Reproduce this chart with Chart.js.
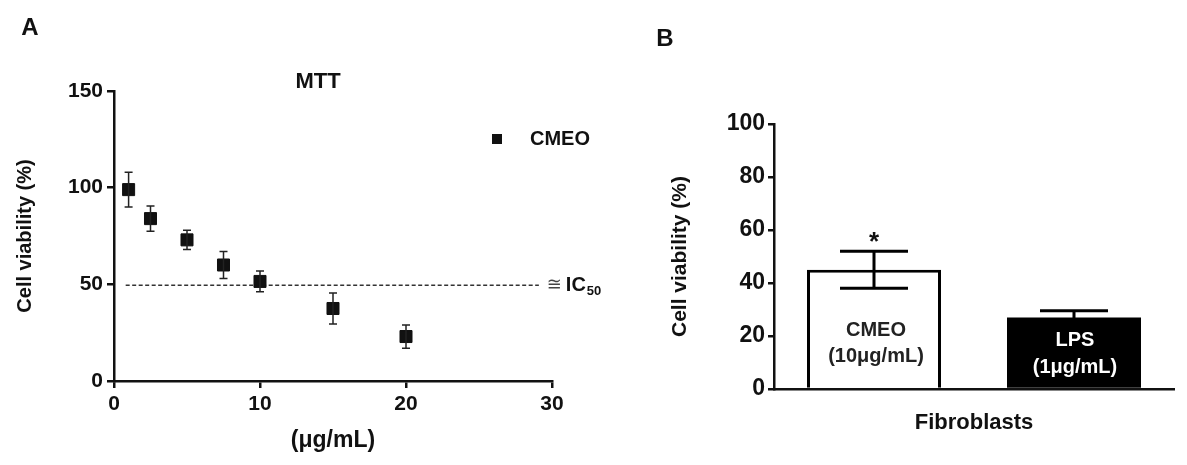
<!DOCTYPE html>
<html>
<head>
<meta charset="utf-8">
<script src="https://cdn.jsdelivr.net/npm/chart.js@4.4.1/dist/chart.umd.min.js"></script>
<style>
  html, body { margin: 0; padding: 0; background: #fff; width: 1187px; height: 465px; overflow: hidden; }
  .panel { position: absolute; top: 0; height: 465px; }
  #wrapA { left: 0; width: 620px; }
  #wrapB { left: 620px; width: 567px; }
</style>
</head>
<body>
<div class="panel" id="wrapA"><canvas id="chartA" width="620" height="465"></canvas></div>
<div class="panel" id="wrapB"><canvas id="chartB" width="567" height="465"></canvas></div>
<script>
// ---- Panel A: MTT dose response ----
const DOSES = [1, 2.5, 5, 7.5, 10, 15, 20];
const VIABILITY = [99, 84, 73, 60, 51.5, 37.5, 23];
const VIABILITY_SEM = [9, 6.5, 5, 7, 5.4, 8, 6];
const IC50_VALUE = 49.5;
const IC50_SPAN = [0.8, 29.1];
const A_X_TICKS = [0, 10, 20, 30];
const A_Y_TICKS = [0, 50, 100, 150];

// ---- Panel B: fibroblast viability ----
const GROUPS = ['CMEO', 'LPS'];
const GROUP_DOSES = ['(10\u03bcg/mL)', '(1\u03bcg/mL)'];
const FIBRO_VIABILITY = [45, 27];
const FIBRO_SEM = [7, 2.5];
const SIGNIFICANT = [true, false];
const B_Y_TICKS = [0, 20, 40, 60, 80, 100];

const FONT = '"Liberation Sans", Arial, "DejaVu Sans", sans-serif';
const INK = '#111';

// shared axis look: black border, outside ticks, no grid
const axis = (ticks, opts) => ({
  type: 'linear',
  min: ticks[0],
  max: ticks[ticks.length - 1],
  afterBuildTicks: s => { s.ticks = ticks.map(v => ({ value: v })); },
  grid: { drawOnChartArea: false, drawTicks: true, tickLength: opts.tickLength, lineWidth: 2.5, color: INK },
  border: { display: true, color: INK, width: 2.5 },
  ticks: { color: INK, padding: opts.pad, font: { family: FONT, size: opts.size, weight: 'bold' } },
  title: opts.title
});

const text = (ctx, str, x, y, size, weight, align, color) => {
  ctx.save();
  ctx.font = `${weight} ${size}px ${FONT}`;
  ctx.fillStyle = color || INK;
  ctx.textAlign = align || 'center';
  ctx.textBaseline = 'middle';
  ctx.fillText(str, x, y);
  ctx.restore();
};

// ---------------- Chart A ----------------
const panelAExtras = {
  id: 'panelAExtras',
  afterDatasetsDraw(chart) {
    const { ctx, chartArea: area, scales: { x, y } } = chart;
    // error bars
    ctx.save();
    ctx.strokeStyle = '#222';
    ctx.lineWidth = 1.5;
    DOSES.forEach((d, i) => {
      const px = x.getPixelForValue(d);
      const hi = y.getPixelForValue(VIABILITY[i] + VIABILITY_SEM[i]);
      const lo = y.getPixelForValue(VIABILITY[i] - VIABILITY_SEM[i]);
      ctx.beginPath();
      ctx.moveTo(px, hi); ctx.lineTo(px, lo);
      ctx.moveTo(px - 4, hi); ctx.lineTo(px + 4, hi);
      ctx.moveTo(px - 4, lo); ctx.lineTo(px + 4, lo);
      ctx.stroke();
    });
    ctx.restore();

    // IC50 label at the end of the dashed line
    const lx = x.getPixelForValue(IC50_SPAN[1]) + 8;
    const ly = y.getPixelForValue(IC50_VALUE);
    text(ctx, '\u2245', lx, ly, 18, 'normal', 'left', '#444');
    text(ctx, 'IC', lx + 19, ly, 20, 'bold', 'left');
    text(ctx, '50', lx + 40, ly + 6, 13, 'bold', 'left');

    // title, legend and panel tag
    text(ctx, 'MTT', (area.left + area.right) / 2 - 15, area.top - 9, 22, 'bold');
    ctx.save();
    ctx.fillStyle = INK;
    ctx.fillRect(area.right - 60, area.top + 43, 10, 10);
    ctx.restore();
    text(ctx, 'CMEO', area.right - 22, area.top + 48, 20, 'bold', 'left');
    text(ctx, 'A', 30, 28, 24, 'bold');
  }
};

new Chart(document.getElementById('chartA'), {
  type: 'scatter',
  data: {
    datasets: [
      {
        label: 'CMEO',
        data: DOSES.map((d, i) => ({ x: d, y: VIABILITY[i] })),
        pointStyle: 'rect',
        pointRadius: 8.5,
        pointBorderWidth: 1,
        backgroundColor: INK,
        borderColor: INK,
        order: 1
      },
      {
        label: 'IC50',
        type: 'line',
        data: IC50_SPAN.map(v => ({ x: v, y: IC50_VALUE })),
        borderColor: '#333',
        borderWidth: 1.5,
        borderDash: [4, 2.5],
        pointRadius: 0,
        fill: false,
        order: 2
      }
    ]
  },
  options: {
    responsive: false,
    animation: false,
    devicePixelRatio: 1,
    layout: { padding: { top: 91, right: 68, bottom: 0, left: 0 } },
    plugins: { legend: { display: false }, tooltip: { enabled: false } },
    scales: {
      x: Object.assign(axis(A_X_TICKS, {
        tickLength: 7, pad: 4, size: 21,
        title: { display: true, text: '(\u03bcg/mL)', color: INK, padding: { top: 0, bottom: 11 },
                 font: { family: FONT, size: 23, weight: 'bold' } }
      }), { position: 'bottom', afterFit: s => { s.height = 84; } }),
      y: Object.assign(axis(A_Y_TICKS, {
        tickLength: 7, pad: 4, size: 21,
        title: { display: true, text: 'Cell viability (%)', color: INK, padding: { top: 13, bottom: 0 },
                 font: { family: FONT, size: 20, weight: 'bold' } }
      }), { position: 'left', afterFit: s => { s.width = 114; } })
    }
  },
  plugins: [panelAExtras]
});

// ---------------- Chart B ----------------
const panelBExtras = {
  id: 'panelBExtras',
  afterDatasetsDraw(chart) {
    const { ctx, chartArea: area, scales: { y } } = chart;
    const bars = chart.getDatasetMeta(0).data;
    ctx.save();
    ctx.strokeStyle = '#000';
    ctx.lineWidth = 3;
    bars.forEach((bar, i) => {
      const hi = y.getPixelForValue(FIBRO_VIABILITY[i] + FIBRO_SEM[i]);
      const lo = y.getPixelForValue(FIBRO_VIABILITY[i] - FIBRO_SEM[i]);
      ctx.beginPath();
      ctx.moveTo(bar.x, hi); ctx.lineTo(bar.x, lo);
      ctx.moveTo(bar.x - 34, hi); ctx.lineTo(bar.x + 34, hi);
      ctx.moveTo(bar.x - 34, lo); ctx.lineTo(bar.x + 34, lo);
      ctx.stroke();
      if (SIGNIFICANT[i]) text(ctx, '*', bar.x, hi - 8, 26, 'bold');
    });
    ctx.restore();

    // labels written inside the bars
    text(ctx, GROUPS[0], bars[0].x + 2, area.bottom - 59, 20, 'bold', 'center', '#222');
    text(ctx, GROUP_DOSES[0], bars[0].x + 2, area.bottom - 33, 20, 'bold', 'center', '#222');
    text(ctx, GROUPS[1], bars[1].x + 1, area.bottom - 49, 20, 'bold', 'center', '#fff');
    text(ctx, GROUP_DOSES[1], bars[1].x + 1, area.bottom - 22, 20, 'bold', 'center', '#fff');

    text(ctx, 'B', 45, 39, 24, 'bold');
  }
};

new Chart(document.getElementById('chartB'), {
  type: 'bar',
  data: {
    labels: GROUPS,
    datasets: [{
      label: 'Fibroblasts',
      data: FIBRO_VIABILITY,
      backgroundColor: ['#fff', '#000'],
      borderColor: '#000',
      borderWidth: [3, 0],
      barPercentage: 0.67,
      categoryPercentage: 1
    }]
  },
  options: {
    responsive: false,
    animation: false,
    devicePixelRatio: 1,
    layout: { padding: { top: 124, right: 13, bottom: 0, left: 0 } },
    plugins: { legend: { display: false }, tooltip: { enabled: false } },
    scales: {
      x: {
        type: 'category',
        position: 'bottom',
        afterFit: s => { s.height = 76; },
        grid: { display: false, drawTicks: false },
        border: { display: true, color: INK, width: 2.5 },
        ticks: { display: false },
        title: { display: true, text: 'Fibroblasts', color: INK, padding: { top: 0, bottom: 29 },
                 font: { family: FONT, size: 22, weight: 'bold' } }
      },
      y: Object.assign(axis(B_Y_TICKS, {
        tickLength: 6, pad: 3, size: 23,
        title: { display: true, text: 'Cell viability (%)', color: INK, padding: { top: 48, bottom: 0 },
                 font: { family: FONT, size: 21, weight: 'bold' } }
      }), { position: 'left', afterFit: s => { s.width = 154; } })
    }
  },
  plugins: [panelBExtras]
});
</script>
</body>
</html>
